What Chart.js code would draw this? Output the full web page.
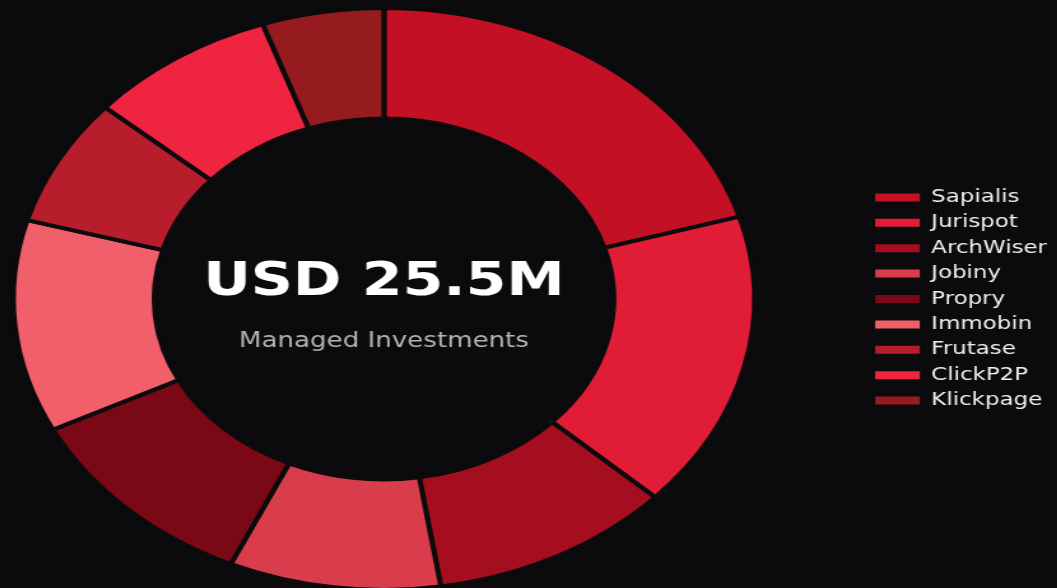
<!DOCTYPE html>
<html>
<head>
<meta charset="utf-8">
<script src="https://cdn.jsdelivr.net/npm/chart.js@4.4.0/dist/chart.umd.min.js"></script>
<style>
  html, body { margin: 0; padding: 0; background: #0b0b0e; overflow: hidden; }
  #wrap { width: 909px; height: 592px; transform: translateX(-97.9px) scaleX(1.2735); transform-origin: 0 0; }
</style>
</head>
<body>
<div id="wrap"><canvas id="chart" width="909" height="592"></canvas></div>
<script>
const labels = ["Sapialis", "Jurispot", "ArchWiser", "Jobiny", "Propry", "Immobin", "Frutase", "ClickP2P", "Klickpage"]
// USD millions
const values = [5.2, 4.2, 2.7, 2.35, 2.75, 3.0, 1.8, 2.1, 1.35]
const colors = ["#c41024", "#e01c36", "#a50e1f", "#d93d4b", "#7a0815", "#f05f6a", "#b81d2c", "#ef2440", "#961b1e"]
const centerTitle = "USD 25.5M"
const centerSub = "Managed Investments"

const bg = "#0b0b0e"

const centerText = {
    id: "centerText",
    afterDraw(chart) {
        const { ctx } = chart
        const arc = chart.getDatasetMeta(0).data[0]
        ctx.save()
        ctx.textAlign = "center"
        ctx.textBaseline = "middle"
        ctx.fillStyle = "#ffffff"
        ctx.font = "bold 46px 'DejaVu Sans'"
        ctx.fillText(centerTitle, arc.x, arc.y - 16)
        ctx.fillStyle = "#b4b4b4"
        ctx.font = "20.5px 'DejaVu Sans'"
        ctx.fillText(centerSub, arc.x, arc.y + 43)
        ctx.restore()
    }
}

const defaultLabels = Chart.overrides.doughnut.plugins.legend.labels.generateLabels

new Chart(document.getElementById("chart").getContext("2d"), {
    type: "doughnut",
    data: {
        labels,
        datasets: [{
            data: values,
            backgroundColor: colors,
            borderColor: bg,
            borderWidth: 4,
            hoverOffset: 0
        }]
    },
    options: {
        responsive: false,
        animation: false,
        cutout: "62%",
        layout: { padding: { top: 6 } },
        plugins: {
            legend: {
                position: "right",
                labels: {
                    color: "#f0f0f0",
                    font: { family: "'DejaVu Sans'", size: 18 },
                    boxWidth: 35,
                    boxHeight: 8,
                    padding: 7.4,
                    generateLabels: (chart) => defaultLabels(chart).map(l => ({ ...l, lineWidth: 0 }))
                }
            },
            tooltip: { enabled: false }
        }
    },
    plugins: [centerText]
})
</script>
</body>
</html>
